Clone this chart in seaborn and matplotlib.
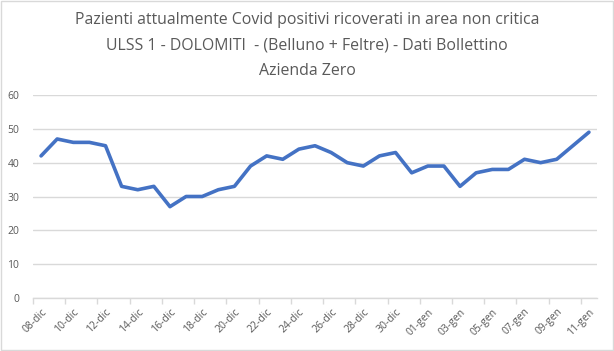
import matplotlib
matplotlib.use("Agg")
import matplotlib.pyplot as plt
import seaborn as sns
import pandas as pd
from matplotlib.patches import Rectangle

dates = ["08-dic", "09-dic", "10-dic", "11-dic", "12-dic", "13-dic", "14-dic", "15-dic",
         "16-dic", "17-dic", "18-dic", "19-dic", "20-dic", "21-dic", "22-dic", "23-dic",
         "24-dic", "25-dic", "26-dic", "27-dic", "28-dic", "29-dic", "30-dic", "31-dic",
         "01-gen", "02-gen", "03-gen", "04-gen", "05-gen", "06-gen", "07-gen", "08-gen",
         "09-gen", "10-gen", "11-gen"]
values = [42, 47, 46, 46, 45, 33, 32, 33, 27, 30, 30, 32, 33, 39, 42, 41, 44, 45, 43, 40,
          39, 42, 43, 37, 39, 39, 33, 37, 38, 38, 41, 40, 41, 45, 49]
yticks = [0, 10, 20, 30, 40, 50, 60]
title = ("Pazienti attualmente Covid positivi ricoverati in area non critica\n"
         "ULSS 1 - DOLOMITI  - (Belluno + Feltre) - Dati Bollettino\n"
         "Azienda Zero")

df = pd.DataFrame({"idx": range(len(dates)), "date": dates, "val": values})

sns.set_theme(style="white")
plt.rcParams['font.family'] = ['Open Sans', 'DejaVu Sans']

fig = plt.figure(figsize=(6.14, 3.51), dpi=100)
fig.patches.append(Rectangle((0.001, 0.002), 0.997, 0.995, transform=fig.transFigure,
                             fill=False, edgecolor="#D9D9D9", linewidth=1.0))
ax = fig.add_axes([33 / 614, 1 - 298 / 351, (597 - 33) / 614, (298 - 95) / 351])

sns.lineplot(data=df, x="idx", y="val", ax=ax, color="#4472C4", linewidth=2.6)

ax.set_xlim(-0.5, len(dates) - 0.5)
ax.set_ylim(0, 60)
ax.set_yticks(yticks)
ax.set_yticklabels([str(v) for v in yticks], fontsize=7.5, color="#595959")
ax.grid(axis="y", color="#D9D9D9", linewidth=1.0)
ax.set_axisbelow(True)
ax.set_xlabel("")
ax.set_ylabel("")

major = list(range(0, len(dates), 2))
ax.set_xticks(major)
ax.set_xticklabels([dates[i] for i in major], rotation=45, ha="right",
                   rotation_mode="anchor", fontsize=7.5, color="#595959")
ax.set_xticks([i - 0.5 for i in range(0, len(dates) + 1, 2)], minor=True)
ax.tick_params(axis="x", which="major", length=0, pad=6)
ax.tick_params(axis="x", which="minor", length=4, color="#D9D9D9", width=1, bottom=True)
ax.tick_params(axis="y", length=0, pad=10)

for s in ["top", "right", "left"]:
    ax.spines[s].set_visible(False)
ax.spines["bottom"].set_color("#D9D9D9")
ax.spines["bottom"].set_linewidth(1.0)

fig.text(0.5, 0.965, title, ha="center", va="top", fontsize=11.4, color="#595959",
         linespacing=1.8)

fig.savefig("out.png", dpi=100)
